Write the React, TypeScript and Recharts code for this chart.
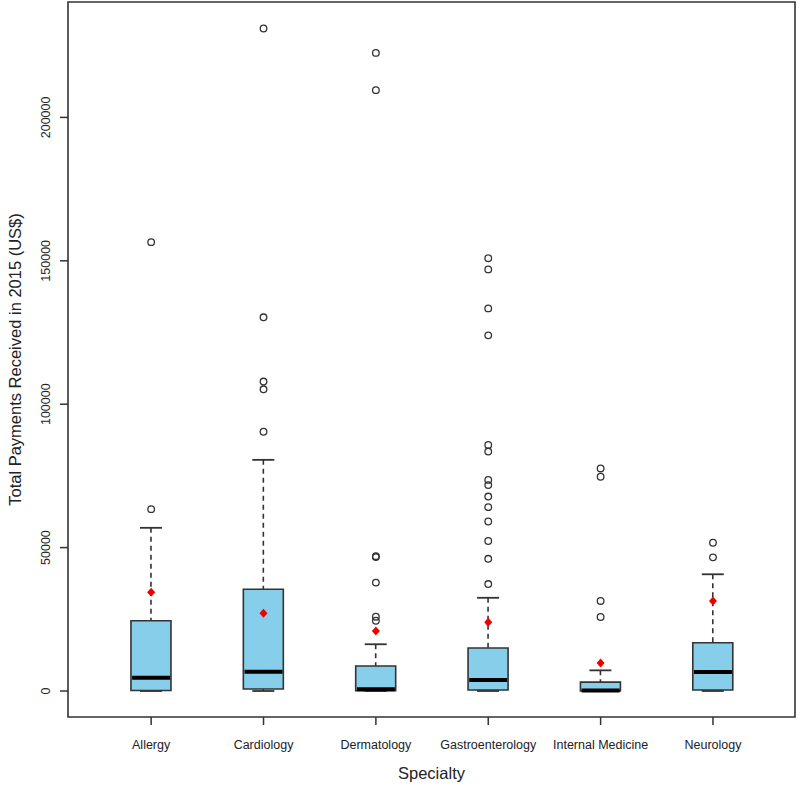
import React from "react";
import {
  Bar,
  ComposedChart,
  ReferenceArea,
  Scatter,
  XAxis,
  YAxis,
} from "recharts";

const categories = [
  "Allergy",
  "Cardiology",
  "Dermatology",
  "Gastroenterology",
  "Internal Medicine",
  "Neurology",
];

// box plot summary per specialty (US$)
const lowerWhisker = [0, 0, 0, 0, 0, 0];
const q1Values = [200, 700, 100, 350, 0, 350];
const medianValues = [4600, 6700, 600, 3800, 200, 6600];
const q3Values = [24500, 35500, 8700, 15000, 3100, 16800];
const upperWhisker = [56900, 80600, 16300, 32500, 7200, 40700];
const meanValues = [34400, 27100, 20900, 24000, 9800, 31400];

const outlierValues: number[][] = [
  [63400, 156500],
  [90400, 105200, 107900, 130300, 231000],
  [24500, 25900, 37800, 46700, 47000, 209500, 222500],
  [
    37300, 46100, 52300, 59100, 64100, 67800, 71800, 73600, 83500, 85800,
    124000, 133400, 147000, 150900,
  ],
  [25800, 31400, 74700, 77600],
  [46600, 51700],
];

const yTicks = [0, 50000, 100000, 150000, 200000];
const xTicks = [1, 2, 3, 4, 5, 6];

const boxRows = categories.map((name, i) => ({
  x: i + 1,
  name,
  lo: lowerWhisker[i],
  q1: q1Values[i],
  q3: q3Values[i],
  hi: upperWhisker[i],
}));
const medianPoints = categories.map((_, i) => ({ x: i + 1, y: medianValues[i] }));
const meanPoints = categories.map((_, i) => ({ x: i + 1, y: meanValues[i] }));
const outlierPoints = outlierValues.flatMap((vals, i) =>
  vals.map((v) => ({ x: i + 1, y: v }))
);

const FONT = "'Liberation Sans', Arial, sans-serif";
const INK = "#333";
const X_DOMAIN: [number, number] = [0.26, 6.73];
const Y_DOMAIN: [number, number] = [-9065, 240240];

function UpperWhiskerShape(props: any) {
  const { x, y, width, height } = props;
  if ([x, y, width, height].some((v) => typeof v !== "number" || isNaN(v))) return null;
  const cx = x + width / 2;
  const top = Math.min(y, y + height);
  const bottom = Math.max(y, y + height);
  return (
    <g>
      <line x1={cx} x2={cx} y1={top} y2={bottom} stroke={INK} strokeWidth={1.6} strokeDasharray="5 4" />
      <line x1={cx - 11} x2={cx + 11} y1={top} y2={top} stroke={INK} strokeWidth={1.8} />
    </g>
  );
}

function LowerWhiskerShape(props: any) {
  const { x, y, width, height } = props;
  if ([x, y, width, height].some((v) => typeof v !== "number" || isNaN(v))) return null;
  const cx = x + width / 2;
  const top = Math.min(y, y + height);
  const bottom = Math.max(y, y + height);
  return (
    <g>
      <line x1={cx} x2={cx} y1={top} y2={bottom} stroke={INK} strokeWidth={1.6} strokeDasharray="5 4" />
      <line x1={cx - 11} x2={cx + 11} y1={bottom} y2={bottom} stroke={INK} strokeWidth={1.8} />
    </g>
  );
}

const MedianShape = ({ cx, cy }: any) => (
  <line x1={cx - 19} x2={cx + 19} y1={cy} y2={cy} stroke="#000" strokeWidth={4} />
);

const MeanShape = ({ cx, cy }: any) => (
  <polygon
    points={`${cx},${cy - 4.5} ${cx + 4},${cy} ${cx},${cy + 4.5} ${cx - 4},${cy}`}
    fill="#ee0000"
  />
);

const OutlierShape = ({ cx, cy }: any) => (
  <circle cx={cx} cy={cy} r={3.3} fill="none" stroke={INK} strokeWidth={1.3} />
);

const YTick = ({ x, y, payload }: any) => (
  <text
    transform={`translate(${x - 8},${y}) rotate(-90)`}
    textAnchor="middle"
    fontSize={12.5}
    fontFamily={FONT}
    fill="#222"
  >
    {payload.value}
  </text>
);

const XTick = ({ x, y, payload }: any) => (
  <text x={x} y={y + 22} textAnchor="middle" fontSize={12.5} fontFamily={FONT} fill="#222">
    {categories[payload.value - 1]}
  </text>
);

export default function App() {
  return (
    <div style={{ position: "absolute", left: 0, top: 0, width: 800, height: 787, background: "#fff" }}>
      <ComposedChart
        width={800}
        height={787}
        data={boxRows}
        margin={{ top: 2, right: 5, bottom: 0, left: 8 }}
      >
        <XAxis
          xAxisId="x"
          type="number"
          dataKey="x"
          domain={X_DOMAIN}
          ticks={xTicks}
          allowDataOverflow
          axisLine={false}
          tickSize={8}
          tickLine={{ stroke: INK, strokeWidth: 1.5 }}
          tick={<XTick />}
          height={70}
          label={(p: any) => {
            const vb = p.viewBox || { x: 68, y: 717, width: 727 };
            return (
              <text x={vb.x + vb.width / 2} y={vb.y + 62} textAnchor="middle" fontSize={16.5} fontFamily={FONT} fill="#222">
                Specialty
              </text>
            );
          }}
        />
        <XAxis xAxisId="w1" orientation="top" height={0} type="number" dataKey="x" domain={X_DOMAIN} ticks={xTicks} allowDataOverflow hide />
        <XAxis xAxisId="w2" orientation="top" height={0} type="number" dataKey="x" domain={X_DOMAIN} ticks={xTicks} allowDataOverflow hide />
        <YAxis
          type="number"
          domain={Y_DOMAIN}
          ticks={yTicks}
          allowDataOverflow
          width={60}
          axisLine={false}
          tickSize={8}
          tickLine={{ stroke: INK, strokeWidth: 1.5 }}
          tick={<YTick />}
          label={(p: any) => {
            const vb = p.viewBox || { x: 8, y: 2, height: 715 };
            const cy = vb.y + vb.height / 2;
            return (
              <text
                transform={`translate(${vb.x + 13},${cy}) rotate(-90)`}
                textAnchor="middle"
                fontSize={16.5}
                fontFamily={FONT}
                fill="#222"
              >
                Total Payments Received in 2015 (US$)
              </text>
            );
          }}
        />
        <ReferenceArea
          xAxisId="x"
          x1={X_DOMAIN[0]}
          x2={X_DOMAIN[1]}
          y1={Y_DOMAIN[0]}
          y2={Y_DOMAIN[1]}
          fill="none"
          stroke={INK}
          strokeWidth={1.6}
          ifOverflow="visible"
        />
        <Bar
          xAxisId="w1"
          dataKey={(d: any) => [d.q3, d.hi]}
          barSize={40}
          shape={<UpperWhiskerShape />}
          isAnimationActive={false}
        />
        <Bar
          xAxisId="w2"
          dataKey={(d: any) => [d.lo, d.q1]}
          barSize={40}
          shape={<LowerWhiskerShape />}
          isAnimationActive={false}
        />
        <Bar
          xAxisId="x"
          dataKey={(d: any) => [d.q1, d.q3]}
          barSize={40}
          fill="#87ceeb"
          stroke={INK}
          strokeWidth={1.6}
          isAnimationActive={false}
        />
        <Scatter xAxisId="x" data={medianPoints} dataKey="y" shape={<MedianShape />} isAnimationActive={false} />
        <Scatter xAxisId="x" data={meanPoints} dataKey="y" shape={<MeanShape />} isAnimationActive={false} />
        <Scatter xAxisId="x" data={outlierPoints} dataKey="y" shape={<OutlierShape />} isAnimationActive={false} />
      </ComposedChart>
    </div>
  );
}
